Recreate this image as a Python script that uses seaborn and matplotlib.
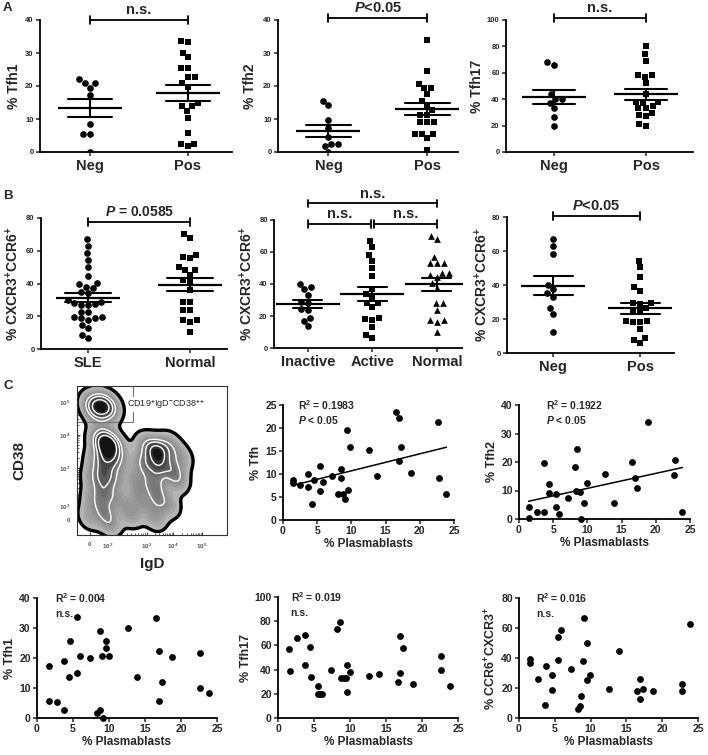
import matplotlib
matplotlib.use("Agg")
import matplotlib.pyplot as plt
from matplotlib.patches import Rectangle
import seaborn as sns
import pandas as pd
import numpy as np

sns.set_style("ticks")
plt.rcParams['font.family'] = ['Liberation Sans', 'DejaVu Sans']
plt.rcParams['font.weight'] = 'bold'
plt.rcParams['axes.labelweight'] = 'bold'
plt.rcParams['mathtext.fontset'] = 'custom'
plt.rcParams['mathtext.rm'] = 'Liberation Sans:bold'
plt.rcParams['mathtext.bf'] = 'Liberation Sans:bold'
plt.rcParams['mathtext.it'] = 'Liberation Sans:italic:bold'
plt.rcParams['mathtext.default'] = 'rm'

# ---- data: panel A (anti-dsDNA negative / positive) ----
tfh1_neg = [21, 19.5, 21, 22, 17.3, 8.5, 5.5, 5.5, 0]
tfh1_pos = [33.7, 33.2, 30.1, 28.7, 25.6, 25.6, 22.7, 22.7, 20.9, 19.8,
            13.8, 13.8, 14.8, 12.3, 10.3, 5.7, 2.5, 2.5, 1.7]
tfh2_neg = [15.6, 14.3, 9.6, 7.3, 2.4, 2.4, 4.4, 1.7, 0]
tfh2_pos = [34, 24.6, 20.5, 19.3, 19.3, 17.5, 15.5, 14.3, 12.8, 11.3,
            11.3, 9, 9, 9, 5.4, 5.4, 5.4, 4.2, 0.7]
tfh17_neg = [66, 68, 44, 40.5, 40, 33, 26.5, 20, 37]
tfh17_pos = [80, 74, 69, 58, 58, 57, 52, 44, 38, 38, 37.5, 34.5, 33, 33,
             29.5, 28, 27, 21, 19.5]

# ---- data: panel B (% CXCR3+CCR6+) ----
x3r6_sle = [67, 63, 58.4, 50.3, 54.4, 44.8, 38, 39.5, 40.1, 37, 35, 34,
            28.9, 29.9, 27.9, 26.9, 26.9, 27.3, 22.8, 22.8, 19.3, 18.7,
            17.7, 18.7, 19.7, 14.7, 12.6, 8.5, 6.5]
x3r6_normal = [70, 68, 57.4, 55.4, 56.4, 50.3, 48.2, 48.2, 45.2, 42.1,
               41.1, 36, 28.9, 28.9, 23.8, 23.8, 17.7, 16.7, 17.7, 10.6]
x3r6_inactive = [38.3, 39.8, 36.7, 33.1, 29, 28.3, 24.2, 23.8, 18.5, 17.1, 13.8]
x3r6_active = [67, 63, 58, 54.5, 50, 45, 37, 34, 32, 28, 28, 25.5, 19, 18,
               17.5, 13, 8, 6.5]
x3r6_healthy = [70, 68, 56.7, 53.3, 52.9, 52.9, 47, 47, 45.6, 44.2, 40.4,
                37.3, 27.9, 27.9, 23.8, 17.5, 16.5, 17.5, 10.2]
x3r6_neg = [67, 63, 58.2, 37.5, 40, 35.1, 33.1, 26.3, 22.7, 12.5]
x3r6_pos = [54.3, 50.4, 44.9, 38.6, 36.7, 29.2, 29.2, 28.8, 26.3, 24.3,
            24.3, 18.4, 18.4, 19, 19, 13.9, 8.6, 7.6, 5.7]

# ---- data: panel C correlations with % plasmablasts ----
tfh_pb = [1.4, 1.5, 2.5, 3.6, 3.7, 4.5, 5.4, 5.4, 5.8, 7.2, 8.5, 8.5, 8.1,
          8.8, 9.5, 9.1, 9.4, 9.8, 12.6, 13.8, 16.5, 16.9, 16.9, 17.2,
          18.7, 22.7, 22.8, 23.9, 4.3]
tfh_val = [8.8, 8.1, 7.6, 10.0, 7.1, 8.7, 11.8, 6.2, 8.3, 9.6, 11.1, 9.1,
           5.7, 5.7, 6.5, 4.5, 19.6, 15.9, 15.2, 9.6, 23.4, 22.1, 12.9,
           15.9, 10.3, 21.4, 9.2, 5.7, 3.4]
tfh2_pb = [3.6, 4.4, 4.4, 5.4, 8.2, 8.5, 8.4, 8.9, 9.9, 12.6, 16.5, 16.9,
           17.2, 18.8, 22.8, 22.7, 7.2, 1.5, 1.4, 2.6, 3.7, 5.4, 5.8, 9.1,
           9.5, 13.9, 23.9]
tfh2_val = [19.5, 12.2, 9.2, 8.8, 18.1, 24.6, 9.9, 9.6, 12.7, 15.7, 20.1,
            14.3, 11.0, 33.9, 20.7, 15.4, 7.2, 4.1, 0.5, 2.6, 2.6, 4.1, 1.6,
            0, 5.6, 5.6, 2.3]
tfh1_pb = [1.6, 1.7, 2.8, 3.7, 3.8, 4.5, 4.6, 5.5, 5.5, 6.0, 7.3, 8.4, 8.7,
           8.8, 9.0, 9.2, 9.6, 9.6, 10.0, 12.7, 13.9, 16.5, 16.9, 16.9,
           17.3, 18.8, 22.7, 22.7, 23.9]
tfh1_val = [5.7, 17.3, 5.3, 2.6, 18.9, 13.7, 25.6, 15.0, 33.6, 20.7, 20.0,
            1.7, 2.6, 28.9, 20.7, 0, 25.6, 23.3, 20.7, 30.1, 13.7, 33.2,
            22.3, 5.6, 12.0, 20.3, 21.7, 10.1, 8.4]
tfh17_pb = [1.5, 1.6, 2.7, 3.7, 3.8, 4.5, 4.6, 5.6, 5.6, 5.9, 6.1, 7.3, 8.2,
            8.6, 8.7, 9.1, 9.4, 9.6, 9.6, 9.95, 12.7, 14.0, 16.6, 16.9,
            16.9, 17.3, 18.8, 22.7, 22.7, 23.9]
tfh17_val = [57, 38.9, 65.8, 69, 44, 58.4, 34.2, 26.8, 19.7, 20, 20, 39.7,
             73.5, 79.5, 32.9, 32.9, 33.4, 43.8, 21.6, 38.4, 35, 36.4, 29.6,
             37, 67.7, 57.5, 28.2, 51.5, 39.7, 26.6]
r6x3_pb = [1.5, 1.5, 2.7, 3.8, 3.6, 4.6, 4.6, 5.5, 5.5, 5.9, 7.2, 8.2, 8.5,
           8.7, 8.9, 9.5, 9.5, 9.9, 12.6, 14.0, 16.5, 16.9, 16.9, 17.3,
           18.7, 22.7, 22.7, 9.1, 23.9]
r6x3_val = [36.7, 39.3, 26.2, 34.9, 8.9, 18.9, 28.4, 38.4, 54, 58.5, 32.9,
            6.2, 7.8, 14.4, 37.8, 50, 25.6, 28.4, 19.3, 44.9, 17.8, 26,
            12.9, 19.6, 18.2, 22.9, 17.8, 67, 63]

# flow cytometry sketch: population centres (IgD, CD38, weight) on display scale
flow_igd = [0.45, 0.8, 1.15, 0.8, 0.6, 1.05,
            1.0, 0.7, 1.3, 1.0, 0.6, 1.4, 0.9, 0.5, 1.3, 0.9, 0.5, 1.4,
            0.9, 0.4, 1.1,
            2.7, 2.3, 3.1, 3.5, 2.2, 2.7, 3.2, 2.0, 2.6, 3.35, 2.1, 2.7,
            1.8, 2.6, 3.1]
flow_cd38 = [4.35, 4.45, 4.35, 4.2, 4.15, 4.2,
             3.1, 3.2, 3.0, 2.6, 2.5, 2.5, 2.0, 1.9, 1.9, 1.4, 1.2, 1.2,
             0.8, 0.6, 0.4,
             2.8, 3.0, 3.0, 2.6, 2.4, 2.3, 2.2, 1.8, 1.7, 1.85, 1.2, 1.2,
             0.7, 0.6, 1.0]
flow_weight = [4, 5, 3, 4, 3, 3,
               10, 4, 4, 7, 3, 3, 6, 3, 3, 5, 3, 3,
               4, 3, 4,
               10, 4, 4, 3, 5, 6, 4, 4, 5, 4, 4, 4,
               4, 4, 3]

W, H = 708, 755
fig = plt.figure(figsize=(W / 100, H / 100), dpi=100)


def px_axes(left, top, right, bottom):
    return fig.add_axes([left / W, 1 - bottom / H, (right - left) / W, (bottom - top) / H])


def style_axes(ax, tick_size):
    sns.despine(ax=ax)
    for s in ('left', 'bottom'):
        ax.spines[s].set_linewidth(1.3)
        ax.spines[s].set_color('black')
    ax.tick_params(direction='out', length=3, width=1.1, labelsize=tick_size, pad=1.5)


def dot_panel(box, groups, values, markers, ylim, ystep, ylabel, xlim, ylab_px):
    left, top, right, bottom = box
    ax = px_axes(*box)
    df = pd.DataFrame({'group': np.repeat(groups, [len(v) for v in values]),
                       'value': np.concatenate(values)})
    for g, m in zip(groups, markers):
        sub = df[df['group'] == g]
        sns.swarmplot(data=sub, x='group', y='value', order=groups, marker=m,
                      color='black', size=4.8, linewidth=0, ax=ax)
    sns.pointplot(data=df, x='group', y='value', order=groups, errorbar='se',
                  capsize=0.45, marker='_', markersize=46, markeredgewidth=1.6,
                  linestyle='none', color='black', err_kws={'linewidth': 1.5}, ax=ax)
    ax.set_xlim(*xlim)
    ax.set_ylim(*ylim)
    ax.set_yticks(np.arange(ylim[0], ylim[1] + 0.1, ystep))
    style_axes(ax, 5.5)
    ax.tick_params(axis='x', labelsize=10.5, pad=2)
    ax.set_xlabel('')
    ax.set_ylabel(ylabel, fontsize=10)
    # label anchor is the right edge of the rotated text
    ax.yaxis.set_label_coords((ylab_px + 7 - left) / (right - left), 0.5)
    return ax


def bracket(ax, x0, x1, y, label, size=10.5, tick=0.03):
    tr = ax.get_xaxis_transform()
    ax.plot([x0, x1], [y, y], transform=tr, color='black', lw=1.3, clip_on=False)
    for x in (x0, x1):
        ax.plot([x, x], [y - tick, y + tick], transform=tr, color='black',
                lw=1.3, clip_on=False)
    ax.text((x0 + x1) / 2, y + 0.02, label, transform=tr, ha='center',
            va='bottom', fontsize=size)


def corr_panel(box, xs, ys, ylim, ystep, ylabel, r2, ptxt, tx, fit=False):
    ax = px_axes(*box)
    sns.scatterplot(x=xs, y=ys, color='black', s=24, linewidth=0, ax=ax, clip_on=False)
    if fit:
        sns.regplot(x=xs, y=ys, scatter=False, ci=None, truncate=True,
                    color='black', line_kws={'linewidth': 1.1}, ax=ax)
    ax.set_xlim(0, 25)
    ax.set_ylim(*ylim)
    ax.set_xticks(np.arange(0, 26, 5))
    ax.set_yticks(np.arange(ylim[0], ylim[1] + 0.1, ystep))
    style_axes(ax, 7.5)
    ax.set_ylabel(ylabel, fontsize=9, labelpad=2)
    ax.set_xlabel('% Plasmablasts', fontsize=8.5, labelpad=1)
    ax.text(tx, 1.0, r2, transform=ax.transAxes, fontsize=7.5, va='center')
    ax.text(tx, 0.87, ptxt, transform=ax.transAxes, fontsize=7.5, va='center')
    return ax


# ---- panel A ----
axA1 = dot_panel((40, 20, 232, 152), ['Neg', 'Pos'], [tfh1_neg, tfh1_pos], ['o', 's'],
                 (0, 40), 10, '% Tfh1', (-0.51, 1.45), 14)
bracket(axA1, 0, 1, 1.0, 'n.s.')
axA2 = dot_panel((278, 20, 458, 152), ['Neg', 'Pos'], [tfh2_neg, tfh2_pos], ['o', 's'],
                 (0, 40), 10, '% Tfh2', (-0.51, 1.31), 250)
bracket(axA2, 0, 1, 1.015, r'$\mathit{P}$<0.05')
axA3 = dot_panel((506, 20, 693, 152), ['Neg', 'Pos'], [tfh17_neg, tfh17_pos], ['o', 's'],
                 (0, 100), 20, '% Tfh17', (-0.52, 1.51), 477)
bracket(axA3, 0, 1, 1.015, 'n.s.')

# ---- panel B ----
ylab_b = r'% CXCR3$^{+}$CCR6$^{+}$'
axB1 = dot_panel((41, 218, 227, 349), ['SLE', 'Normal'], [x3r6_sle, x3r6_normal], ['o', 's'],
                 (0, 80), 20, ylab_b, (-0.46, 1.36), 14)
bracket(axB1, 0, 1, 0.97, r'$\mathit{P}$ = 0.0585', size=10)
axB2 = dot_panel((274, 220, 462, 348), ['Inactive', 'Active', 'Normal'],
                 [x3r6_inactive, x3r6_active, x3r6_healthy], ['o', 's', '^'],
                 (0, 80), 20, ylab_b, (-0.525, 2.39), 248)
bracket(axB2, 0, 2, 1.13, 'n.s.')
bracket(axB2, 0, 0.98, 0.97, 'n.s.')
bracket(axB2, 1.02, 2, 0.97, 'n.s.')
axB3 = dot_panel((507, 217, 674, 353), ['Neg', 'Pos'], [x3r6_neg, x3r6_pos], ['o', 's'],
                 (0, 80), 20, ylab_b, (-0.53, 1.39), 483)
bracket(axB3, 0, 1, 1.01, r'$\mathit{P}$<0.05')

# ---- panel C: flow plot ----
axF = px_axes(77, 386, 227, 535)
flow_cmap = sns.blend_palette(['#bdbdbd', '#858585', '#353535', '#000000'], as_cmap=True)
kde_kw = dict(x=flow_igd, y=flow_cd38, weights=flow_weight, bw_method=0.27,
              gridsize=180, cut=4, ax=axF)
sns.kdeplot(fill=True, levels=14, thresh=0.035, cmap=flow_cmap, **kde_kw)
sns.kdeplot(levels=[0.45, 0.68, 0.85], colors='white', linewidths=1.0, **kde_kw)
sns.kdeplot(levels=[0.035], colors='black', linewidths=2.4, **kde_kw)
axF.set_xlim(0, 5)
axF.set_ylim(0, 5)
axF.add_patch(Rectangle((0, 3.79), 1.87, 1.25, fill=False, edgecolor='#777777',
                        lw=0.8, clip_on=True))
axF.text(1.68, 4.38, r'CD19$^{+}$IgD$^{-}$CD38$^{++}$', fontsize=6.5,
         va='center', ha='left', fontweight='normal',
         bbox=dict(facecolor='white', edgecolor='none', pad=0.5))
flow_xt = [0.43, 1.03, 2.33, 3.2, 4.17]
flow_yt = [0.5, 0.97, 2.25, 3.36, 4.46]
flow_lab = ['0', r'10$^2$', r'10$^3$', r'10$^4$', r'10$^5$']
axF.set_xticks(flow_xt)
axF.set_xticklabels(flow_lab)
axF.set_yticks(flow_yt)
axF.set_yticklabels(flow_lab)
# minor ticks inside each decade, as on the cytometer axes
minor_x = [a + np.log10(k) * (b - a) for a, b in zip(flow_xt[1:-1], flow_xt[2:]) for k in range(2, 10)]
minor_y = [a + np.log10(k) * (b - a) for a, b in zip(flow_yt[1:-1], flow_yt[2:]) for k in range(2, 10)]
axF.set_xticks(minor_x, minor=True)
axF.set_yticks(minor_y, minor=True)
axF.tick_params(labelsize=4.5, length=2.5, width=0.6, direction='in', pad=5,
                labelcolor='#555555')
axF.tick_params(which='minor', length=1.5, width=0.5, direction='in')
for s in axF.spines.values():
    s.set_linewidth(0.8)
    s.set_color('#333333')
axF.set_xlabel('IgD', fontsize=11, labelpad=4)
axF.set_ylabel('CD38', fontsize=11)
axF.yaxis.set_label_coords((26 - 77) / 150, 0.5)

axC2 = corr_panel((283, 405, 454, 520), tfh_pb, tfh_val, (0, 25), 5, '% Tfh',
                  r'R$^2$ = 0.1983', r'$\mathit{P}$ < 0.05', 0.09, fit=True)
axC3 = corr_panel((519, 405, 690, 519), tfh2_pb, tfh2_val, (0, 40), 10, '% Tfh2',
                  r'R$^2$ = 0.1922', r'$\mathit{P}$ < 0.05', 0.16, fit=True)
axD1 = corr_panel((37, 598, 217, 718), tfh1_pb, tfh1_val, (0, 40), 10, '% Tfh1',
                  r'R$^2$ = 0.004', 'n.s.', 0.10)
axD2 = corr_panel((278, 597, 458, 718), tfh17_pb, tfh17_val, (0, 100), 20, '% Tfh17',
                  r'R$^2$ = 0.019', 'n.s.', 0.07)
axD3 = corr_panel((519, 598, 698, 718), r6x3_pb, r6x3_val, (0, 80), 20,
                  r'% CCR6$^{+}$CXCR3$^{+}$', r'R$^2$ = 0.016', 'n.s.', 0.095)

# panel letters
for letter, y in (('A', 8), ('B', 196), ('C', 386)):
    fig.text(3 / W, 1 - y / H, letter, fontsize=9.5, va='center', ha='left')

fig.savefig('out.png', dpi=100)
